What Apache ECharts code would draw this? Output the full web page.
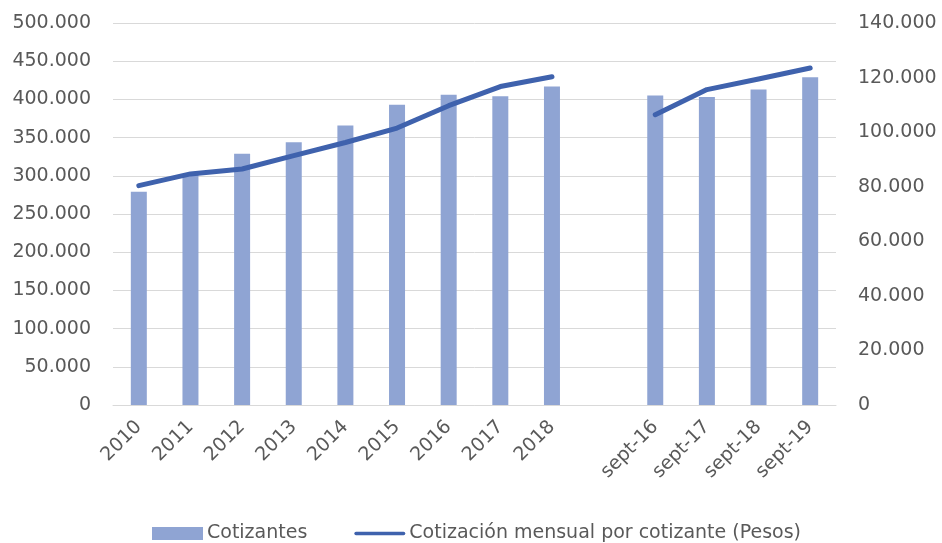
<!DOCTYPE html>
<html>
<head>
<meta charset="utf-8">
<script src="https://cdn.jsdelivr.net/npm/echarts@6/dist/echarts.min.js"></script>
<style>html,body{margin:0;padding:0;background:#fff}#c{width:942px;height:543px}</style>
</head>
<body>
<div id="c"></div>
<script>
const categories = ['2010','2011','2012','2013','2014','2015','2016','2017','2018','','sept-16','sept-17','sept-18','sept-19'];
const cotizantes = [279000, 301000, 329000, 344000, 366000, 393000, 406000, 404000, 417000, null, 405000, 403000, 413000, 429000];
const cotizacionMensual = [80400, 84700, 86500, 91400, 96200, 101500, 109700, 116700, 120300, null, 106400, 115600, 119500, 123500];
const leftTicks = { min: 0, max: 500000, interval: 50000 };
const rightTicks = { min: 0, max: 140000, interval: 20000 };

const FONT = 'DejaVu Sans';
const TXT = '#595959';
function fmt(v) {
  if (v === 0) return '0';
  return String(v).replace(/\B(?=(\d{3})+(?!\d))/g, '.');
}
const chart = echarts.init(document.getElementById('c'), null, { renderer: 'canvas' });
chart.setOption({
  animation: false,
  textStyle: { fontFamily: FONT },
  grid: { left: 113, right: 106, top: 23, bottom: 138, containLabel: false },
  legend: {
    left: 147, top: 519,
    itemWidth: 51, itemHeight: 13, itemGap: 47,
    textStyle: { fontFamily: FONT, fontSize: 19, color: TXT, padding: [0,0,0,-1] },
    data: [
      { name: 'Cotizantes', icon: 'rect' },
      { name: 'Cotización mensual por cotizante (Pesos)', icon: 'path://M2,0 L58,0 A2,2 0 0 1 58,4 L2,4 A2,2 0 0 1 2,0 Z', itemStyle: { color: '#3F62AD' } }
    ]
  },
  xAxis: {
    type: 'category', data: categories,
    axisLine: { show: true, lineStyle: { color: '#D9D9D9', width: 1 } },
    axisTick: { show: false },
    axisLabel: { rotate: 45, fontFamily: FONT, fontSize: 19, color: TXT, margin: 19, interval: 0 }
  },
  yAxis: [
    {
      type: 'value', min: leftTicks.min, max: leftTicks.max, interval: leftTicks.interval,
      axisLine: { show: false }, axisTick: { show: false },
      splitLine: { lineStyle: { color: '#D9D9D9', width: 1 } },
      axisLabel: { formatter: fmt, fontFamily: FONT, fontSize: 19, color: TXT, margin: 22 }
    },
    {
      type: 'value', min: rightTicks.min, max: rightTicks.max, interval: rightTicks.interval,
      axisLine: { show: false }, axisTick: { show: false },
      splitLine: { show: false },
      axisLabel: { formatter: fmt, fontFamily: FONT, fontSize: 19, color: TXT, margin: 22 }
    }
  ],
  series: [
    {
      name: 'Cotizantes', type: 'bar', data: cotizantes, yAxisIndex: 0,
      barWidth: 16, itemStyle: { color: '#8FA4D3' }
    },
    {
      name: 'Cotización mensual por cotizante (Pesos)', type: 'line', data: cotizacionMensual, yAxisIndex: 1,
      symbol: 'none', connectNulls: false,
      lineStyle: { color: '#3F62AD', width: 5, cap: 'round', join: 'round' },
      itemStyle: { color: '#3F62AD' }
    }
  ]
});
</script>
</body>
</html>
